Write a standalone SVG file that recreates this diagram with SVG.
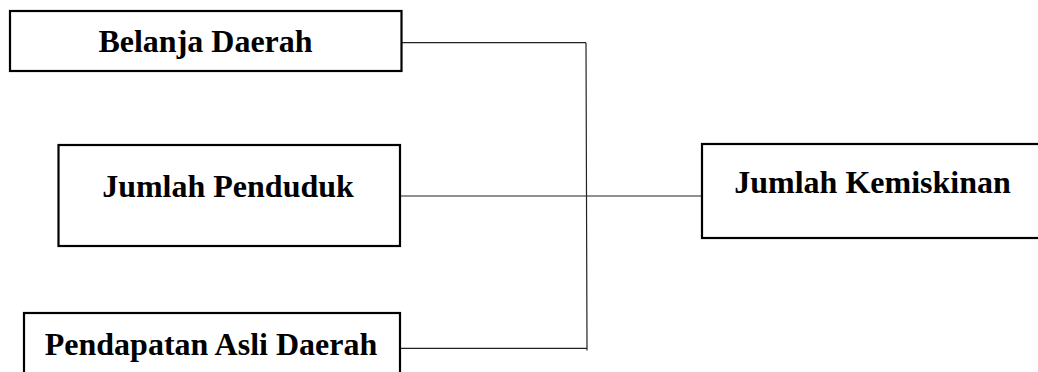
<svg xmlns="http://www.w3.org/2000/svg" width="1038" height="372" viewBox="0 0 1038 372">
<style>
.box{fill:#fff;stroke:#000;stroke-width:2.2}
.lbl{font-family:"Liberation Serif","Times New Roman",serif;font-weight:bold;font-size:32px;fill:#000}
.conn{fill:none;stroke:#222;stroke-width:1.2}
</style>
<rect width="1038" height="372" fill="#fff"/>
<g id="connectors">
<polyline class="conn" points="402,42.7 586,42.7"/>
<polyline class="conn" points="586,42.7 586.5,196 587,350.5"/>
<polyline class="conn" points="401,348.3 587,348.3"/>
<polyline class="conn" points="401,196 702,196"/>
</g>
<g id="belanja-daerah">
<rect class="box" x="10" y="11" width="391.5" height="60"/>
<text class="lbl" x="205.5" y="52" text-anchor="middle">Belanja Daerah</text>
</g>
<g id="jumlah-penduduk">
<rect class="box" x="58.5" y="145" width="341.5" height="101"/>
<text class="lbl" x="228" y="197" text-anchor="middle">Jumlah Penduduk</text>
</g>
<g id="pendapatan-asli-daerah">
<rect class="box" x="24" y="313" width="376" height="70"/>
<text class="lbl" x="211" y="355" text-anchor="middle">Pendapatan Asli Daerah</text>
</g>
<g id="jumlah-kemiskinan">
<rect class="box" x="702" y="144" width="350" height="94"/>
<text class="lbl" x="872.5" y="193" text-anchor="middle">Jumlah Kemiskinan</text>
</g>
</svg>
